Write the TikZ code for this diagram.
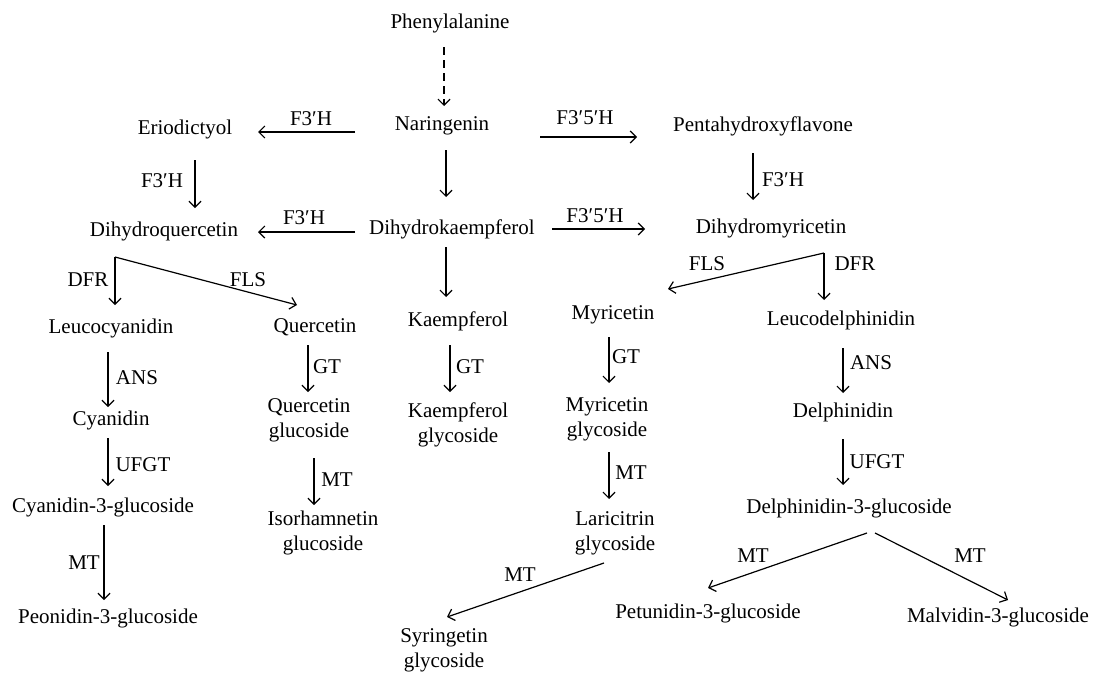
\documentclass[tikz,border=0pt]{standalone}
\usepackage{fontspec}
\setmainfont{Liberation Serif}
\usetikzlibrary{arrows.meta}
\tikzset{
  cpd/.style={inner sep=0pt, outer sep=0pt, align=center, font=\fontsize{21}{25}\selectfont},
  enz/.style={inner sep=0pt, outer sep=0pt, font=\fontsize{21}{25}\selectfont},
  arr/.style={line width=1.2pt, -{Straight Barb[length=6pt,width=12pt,line width=1.2pt]}},
  dasharr/.style={arr, dash pattern=on 8pt off 5pt},
  ln/.style={line width=1.2pt}
}
\begin{document}
\begin{tikzpicture}[x=1pt,y=-1pt]
\fill[white] (0,0) rectangle (1095,672);
\useasboundingbox (0,0) rectangle (1095,672);
% compounds
\node[cpd] (phe) at (450,23) {Phenylalanine};
\node[cpd] (nar) at (442,126) {Naringenin};
\node[cpd] (eri) at (185,129) {Eriodictyol};
\node[cpd] (pen) at (763,126) {Pentahydroxyflavone};
\node[cpd] (dhk) at (452,229) {Dihydrokaempferol};
\node[cpd] (dhq) at (164,231) {Dihydroquercetin};
\node[cpd] (dhm) at (771,228) {Dihydromyricetin};
\node[cpd] (leuc) at (111,328) {Leucocyanidin};
\node[cpd] (que) at (315,327) {Quercetin};
\node[cpd] (kae) at (458,321) {Kaempferol};
\node[cpd] (myr) at (613,315) {Myricetin};
\node[cpd] (leud) at (841,320) {Leucodelphinidin};
\node[cpd] (cya) at (111,420) {Cyanidin};
\node[cpd] (qg) at (309,420) {Quercetin\\glucoside};
\node[cpd] (kg) at (458,425) {Kaempferol\\glycoside};
\node[cpd] (mg) at (607,419) {Myricetin\\glycoside};
\node[cpd] (del) at (843,412) {Delphinidin};
\node[cpd] (c3g) at (103,507) {Cyanidin-3-glucoside};
\node[cpd] (ig) at (323,533) {Isorhamnetin\\glucoside};
\node[cpd] (lg) at (615,533) {Laricitrin\\glycoside};
\node[cpd] (d3g) at (849,508) {Delphinidin-3-glucoside};
\node[cpd] (peo) at (108,618) {Peonidin-3-glucoside};
\node[cpd] (syr) at (444,650) {Syringetin\\glycoside};
\node[cpd] (pet) at (708,613) {Petunidin-3-glucoside};
\node[cpd] (mal) at (998,617) {Malvidin-3-glucoside};
% enzyme labels
\node[enz] (t1) at (311,119) {F3′H};
\node[enz] (t2) at (585,118) {F3′5′H};
\node[enz] (t3) at (783,180) {F3′H};
\node[enz] (t4) at (162,181) {F3′H};
\node[enz] (t5) at (304,218) {F3′H};
\node[enz] (t6) at (595,216) {F3′5′H};
\node[enz] (t7) at (88,280) {DFR};
\node[enz] (t8) at (248,280) {FLS};
\node[enz] (t9) at (707,264) {FLS};
\node[enz] (t10) at (855,264) {DFR};
\node[enz] (t11) at (137,378) {ANS};
\node[enz] (t12) at (143,465) {UFGT};
\node[enz] (t13) at (84,563) {MT};
\node[enz] (t14) at (327,367) {GT};
\node[enz] (t15) at (337,480) {MT};
\node[enz] (t16) at (470,367) {GT};
\node[enz] (t17) at (626,357) {GT};
\node[enz] (t18) at (631,473) {MT};
\node[enz] (t19) at (520,575) {MT};
\node[enz] (t20) at (871,363) {ANS};
\node[enz] (t21) at (877,462) {UFGT};
\node[enz] (t22) at (753,556) {MT};
\node[enz] (t23) at (970,556) {MT};
% branch points
\coordinate (br1) at ([shift={(-49,26)}]dhq.center);
\coordinate (br2) at ([shift={(53,25)}]dhm.center);
% connectors
\draw[dasharr] ([shift={(-6,24)}]phe.center) -- ([shift={(2,-20)}]nar.center);
\draw[arr] ([shift={(4,24)}]nar.center) -- ([shift={(-6,-32)}]dhk.center);
\draw[arr] ([shift={(-87,6)}]nar.center) -- ([shift={(73,3)}]eri.center);
\draw[arr] ([shift={(98,11)}]nar.center) -- ([shift={(-126,11)}]pen.center);
\draw[arr] ([shift={(-10,27)}]pen.center) -- ([shift={(-18,-28)}]dhm.center);
\draw[arr] ([shift={(10,31)}]eri.center) -- ([shift={(31,-23)}]dhq.center);
\draw[arr] ([shift={(-97,3)}]dhk.center) -- ([shift={(94,1)}]dhq.center);
\draw[arr] ([shift={(100,0)}]dhk.center) -- ([shift={(-126,1)}]dhm.center);
\draw[arr] (br1) -- ([shift={(4,-23)}]leuc.center);
\draw[arr] (br1) -- ([shift={(-18,-22)}]que.center);
\draw[arr] ([shift={(-6,18)}]dhk.center) -- ([shift={(-12,-24)}]kae.center);
\draw[arr] (br2) -- ([shift={(55,-26)}]myr.center);
\draw[arr] (br2) -- ([shift={(-17,-20)}]leud.center);
\draw[arr] ([shift={(-3,24)}]leuc.center) -- ([shift={(-3,-13)}]cya.center);
\draw[arr] ([shift={(-3,18)}]cya.center) -- ([shift={(5,-21)}]c3g.center);
\draw[arr] ([shift={(1,18)}]c3g.center) -- ([shift={(-4,-18)}]peo.center);
\draw[arr] ([shift={(-7,18)}]que.center) -- ([shift={(-1,-28)}]qg.center);
\draw[arr] ([shift={(5,38)}]qg.center) -- ([shift={(-9,-28)}]ig.center);
\draw[arr] ([shift={(-8,24)}]kae.center) -- ([shift={(-8,-33)}]kg.center);
\draw[arr] ([shift={(-4,22)}]myr.center) -- ([shift={(2,-36)}]mg.center);
\draw[arr] ([shift={(2,33)}]mg.center) -- ([shift={(-6,-34)}]lg.center);
\draw[arr] ([shift={(-11,30)}]lg.center) -- ([shift={(3,-33)}]syr.center);
\draw[arr] ([shift={(2,28)}]leud.center) -- ([shift={(0,-19)}]del.center);
\draw[arr] ([shift={(0,27)}]del.center) -- ([shift={(-6,-23)}]d3g.center);
\draw[arr] ([shift={(18,25)}]d3g.center) -- ([shift={(0,-25)}]pet.center);
\draw[arr] ([shift={(26,25)}]d3g.center) -- ([shift={(10,-17)}]mal.center);
\end{tikzpicture}
\end{document}
